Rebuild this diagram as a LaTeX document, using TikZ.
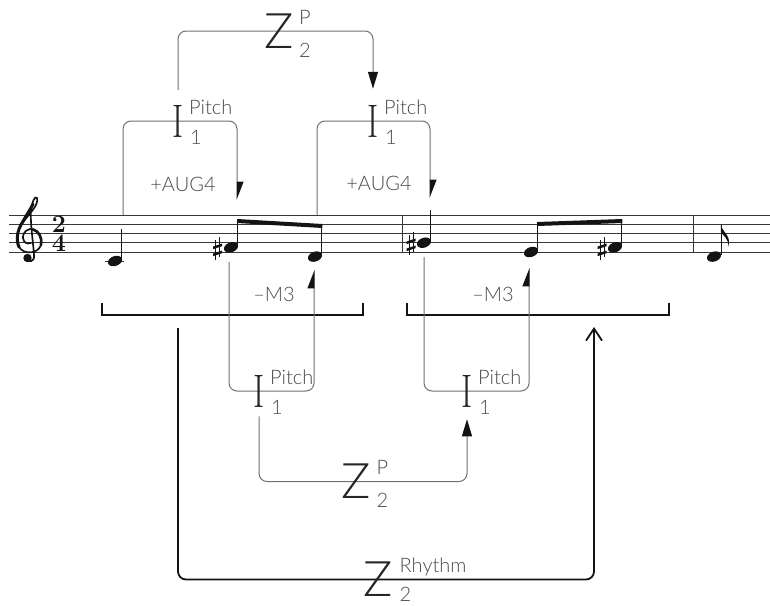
\documentclass[tikz,border=0pt]{standalone}
\usepackage{fontspec}
\usepackage{graphicx}
\usetikzlibrary{arrows.meta}
\IfFontExistsTF{Lato Light}{\newfontfamily\labfont{Lato Light}}{\newfontfamily\labfont{Lato}}
\definecolor{linegray}{HTML}{707070}
\definecolor{labcol}{HTML}{4A4A4A}
\definecolor{symcol}{HTML}{262626}
\definecolor{inkcol}{HTML}{141414}
\newcommand\Ibar{\scalebox{0.72}[1]{I}}
\newcommand\nhead[2]{\fill[inkcol,rotate around={20:(#1,#2)}] (#1,#2) ellipse (7.3pt and 4.9pt);}
\newcommand\sharpat[2]{\begin{scope}[shift={(#1,#2)}]
  \draw[inkcol,line width=0.9pt] (-2,-8) -- (-2,12) (2,-11) -- (2,9);
  \fill[inkcol] (-4.5,-1.5) -- (4.5,-4.5) -- (4.5,-1.8) -- (-4.5,1.2) -- cycle;
  \fill[inkcol] (-4.5,5.5) -- (4.5,2.5) -- (4.5,5.2) -- (-4.5,8.2) -- cycle;
\end{scope}}
\begin{document}
\begin{tikzpicture}[x=1pt,y=-1pt,
  pline/.style={draw=linegray, line width=1pt, rounded corners=8pt},
  rline/.style={draw=inkcol, line width=1.8pt, rounded corners=8pt},
  mbrack/.style={draw=inkcol, line width=2.6pt},
  staffline/.style={draw=inkcol!85, line width=1pt},
  stemline/.style={draw=inkcol, line width=1.1pt},
  clefline/.style={draw=inkcol, line cap=round, line join=round},
  zsym/.style={inner sep=0pt, font=\labfont\fontsize{49}{49}\selectfont, text=symcol},
  isym/.style={inner sep=0pt, font=\fontsize{47}{47}\selectfont, text=symcol},
  lbl/.style={inner sep=0pt, font=\labfont\fontsize{20}{20}\selectfont, text=labcol},
  supl/.style={lbl, anchor=base west},
  tsig/.style={inner sep=0pt, align=center, font=\bfseries\fontsize{25}{19.5}\selectfont, text=inkcol},
  fulltip/.style={-{Triangle[length=17pt,width=10pt,color=inkcol]}},
  halftip/.style={-{Triangle[harpoon,length=17pt,width=13pt,color=inkcol]}},
  opentip/.style={-{Straight Barb[length=12pt,width=16pt]}}]
\useasboundingbox (0,0) rectangle (770,605);

% staff
\foreach \yy in {215,224.25,233.5,242.75,252} \draw[staffline] (9,\yy) -- (770,\yy);
\draw[staffline] (402,215) -- (402,252);
\draw[staffline] (693,215) -- (693,252);

% treble clef (drawn shape)
\draw[clefline, line width=1.7pt] (25,257) .. controls (28,264) and (35,262) .. (34,255)
  .. controls (33,240) and (30,222) .. (31,210)
  .. controls (32,202) and (35,195) .. (37,198)
  .. controls (39,205) and (29,214) .. (24,221)
  .. controls (17,230) and (15,240) .. (19,247)
  .. controls (24,255) and (38,254) .. (41,245)
  .. controls (43,236) and (36,228) .. (30,229)
  .. controls (24,230) and (21,237) .. (24,241)
  .. controls (26,244) and (29,244) .. (31,243);
\draw[clefline, line width=3pt] (33,204) .. controls (30,210) and (26,216) .. (22,223)
  .. controls (17,231) and (16,240) .. (19,247);
\draw[clefline, line width=2.6pt] (41,245) .. controls (42.5,238) and (39,231) .. (33,229.5);
\fill[inkcol] (27.5,258) circle (4.2pt);

\node[tsig] (ts) at (59,234) {2\\4};

% notes, measure 1
\draw[staffline] (105,261) -- (124,261);
\nhead{115}{261}
\draw[stemline] (121.8,259) -- (121.8,229);
\sharpat{217.5}{248}
\nhead{231}{247.4}
\draw[stemline] (237.8,246) -- (237.8,221);
\nhead{315}{256.6}
\draw[stemline] (321.8,255) -- (321.8,225);
\fill[inkcol] (237.2,219) -- (322.4,224) -- (322.4,228) -- (237.2,223) -- cycle;
% measure 2
\sharpat{411}{243}
\nhead{424}{242.7}
\draw[stemline] (430.8,241) -- (430.8,210);
\nhead{531}{252}
\draw[stemline] (537.8,250) -- (537.8,223);
\sharpat{602}{248}
\nhead{615}{247.4}
\draw[stemline] (621.8,246) -- (621.8,220);
\fill[inkcol] (537.2,222) -- (622.4,219) -- (622.4,223) -- (537.2,226) -- cycle;
% measure 3
\nhead{714}{256.6}
\draw[stemline] (721.3,255) -- (721.3,225);
\fill[inkcol] (720.8,225) .. controls (723,233) and (732,236) .. (728,247)
  .. controls (729,238) and (723,236) .. (720.8,232) -- cycle;

% measure brackets
\draw[mbrack] (102,303) -- (102,315) -- (363,315) -- (363,303);
\draw[mbrack] (407,303) -- (407,315) -- (669,315) -- (669,303);

% symbol positions
\node[isym] (I1) at (178,121) {\phantom{\Ibar}};
\node[isym] (I2) at (373,121) {\phantom{\Ibar}};
\node[isym] (I3) at (259,391) {\phantom{\Ibar}};
\node[isym] (I4) at (467,391) {\phantom{\Ibar}};
\node[zsym] (Z1) at (279,31) {\phantom{Z}};
\node[zsym] (Z2) at (356.5,481.5) {\phantom{Z}};
\node[zsym] (Z3) at (378.5,579.5) {\phantom{Z}};

% coordinates at notes
\coordinate (a1s) at (123,215);
\coordinate (a1e) at (237,200);
\coordinate (a2s) at (317,215);
\coordinate (a2e) at (430,198);
\coordinate (b1s) at (229,262);
\coordinate (b1e) at (314,270);
\coordinate (b2s) at (424,257);
\coordinate (b2e) at (529,268);
\coordinate (m1) at (178,328);
\coordinate (m2) at (594,327);

% connectors
\draw[pline, halftip] (a1s) |- (I1.center) -| (a1e);
\draw[pline, halftip] (a2s) |- (I2.center) -| (a2e);
\draw[pline, halftip] (b1s) |- (I3.center) -| (b1e);
\draw[pline, halftip] (b2s) |- (I4.center) -| (b2e);
\draw[pline, fulltip] ([yshift=15pt]I1.north) |- (Z1.center) -| ([yshift=16pt]I2.north);
\draw[pline, fulltip] ([yshift=-9pt]I3.south) |- (Z2.center) -| ([yshift=-12pt]I4.south);
\draw[rline, opentip] (m1) |- (Z3.center) -| (m2);

% symbols on top of lines
\node[isym] (I1g) at (I1) {\Ibar};
\node[isym] (I2g) at (I2) {\Ibar};
\node[isym] (I3g) at (I3) {\Ibar};
\node[isym] (I4g) at (I4) {\Ibar};
\node[zsym] (Z1g) at (Z1) {Z};
\node[zsym] (Z2g) at (Z2) {Z};
\node[zsym] (Z3g) at (Z3) {Z};

% labels
\node[supl] (I1p) at ([xshift=11pt,yshift=7pt]I1.center) {Pitch};
\node[supl] (I1s) at ([xshift=12pt,yshift=-23pt]I1.center) {1};
\node[supl] (I2p) at ([xshift=11pt,yshift=7pt]I2.center) {Pitch};
\node[supl] (I2s) at ([xshift=12pt,yshift=-23pt]I2.center) {1};
\node[supl] (I3p) at ([xshift=11pt,yshift=7pt]I3.center) {Pitch};
\node[supl] (I3s) at ([xshift=12pt,yshift=-23pt]I3.center) {1};
\node[supl] (I4p) at ([xshift=11pt,yshift=7pt]I4.center) {Pitch};
\node[supl] (I4s) at ([xshift=12pt,yshift=-23pt]I4.center) {1};
\node[supl] (Z1p) at ([xshift=20pt,yshift=7pt]Z1.center) {P};
\node[supl] (Z1s) at ([xshift=20pt,yshift=-26pt]Z1.center) {2};
\node[supl] (Z2p) at ([xshift=20pt,yshift=7pt]Z2.center) {P};
\node[supl] (Z2s) at ([xshift=20pt,yshift=-26pt]Z2.center) {2};
\node[supl] (Z3p) at ([xshift=21pt,yshift=7pt]Z3.center) {Rhythm};
\node[supl] (Z3s) at ([xshift=21pt,yshift=-21.5pt]Z3.center) {2};
\node[lbl] (aug1) at (183,184) {+AUG4};
\node[lbl] (aug2) at (379,183) {+AUG4};
\node[lbl] (m31) at (274,294) {–M3};
\node[lbl] (m32) at (493,294) {–M3};
\end{tikzpicture}
\end{document}
